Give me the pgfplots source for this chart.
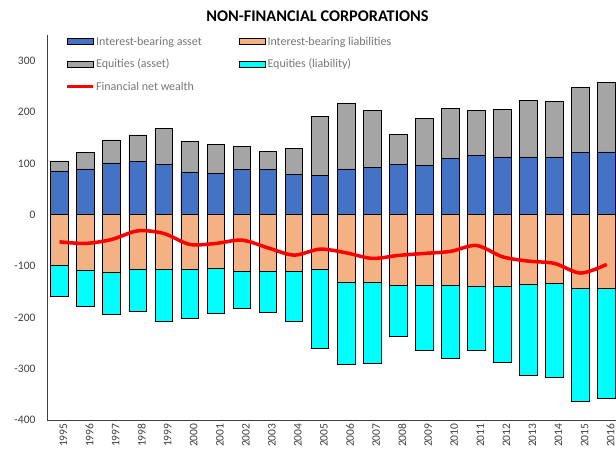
\documentclass[border=0pt]{standalone}
\usepackage{pgfplots}
\pgfplotsset{compat=1.18}
\usepackage{pgfplotstable}
\usepackage{fontspec}
\setmainfont{Carlito}
\definecolor{cblue}{HTML}{4472C4}
\definecolor{corange}{HTML}{F4B183}
\definecolor{cgray}{HTML}{A5A5A5}
\definecolor{ccyan}{HTML}{00FFFF}
\definecolor{cred}{HTML}{FF0000}
\definecolor{legtext}{HTML}{767676}
\definecolor{ticktext}{HTML}{404040}
\definecolor{axcol}{HTML}{404040}

\pgfplotstableread{
idx blue gray orange cyan net
0 85.2 104.7 -98.8 -159.0 -52.9
1 89.0 121.6 -108.0 -179.3 -56.0
2 100.8 145.5 -113.2 -195.0 -48.3
3 103.5 155.3 -106.6 -188.4 -31.5
4 98.2 168.3 -106.0 -207.2 -36.6
5 83.3 143.0 -107.4 -202.0 -58.0
6 80.7 136.6 -105.4 -193.0 -56.0
7 87.9 133.3 -110.0 -183.2 -49.6
8 87.9 123.0 -110.0 -191.0 -64.6
9 78.8 129.4 -110.6 -208.5 -78.8
10 76.5 192.2 -106.0 -260.4 -67.1
11 89.1 216.3 -131.3 -292.2 -74.3
12 91.8 202.7 -131.3 -289.6 -85.2
13 98.2 156.6 -137.8 -236.4 -79.4
14 95.7 187.7 -137.8 -264.3 -75.5
15 109.3 207.8 -137.8 -279.2 -71.6
16 115.2 203.9 -140.4 -264.3 -60.0
17 112.5 205.8 -140.4 -287.0 -82.0
18 112.5 222.2 -136.5 -312.9 -90.5
19 112.5 221.4 -133.9 -317.4 -95.0
20 121.0 248.0 -143.0 -362.8 -113.8
21 122.2 258.4 -144.3 -358.3 -96.9
}\datatable

\begin{document}
\begin{tikzpicture}
\useasboundingbox (0,0) rectangle (616bp,453bp);
\node[font=\bfseries\fontsize{16.3bp}{18bp}\selectfont] at (317.5bp,436.3bp) {NON-FINANCIAL CORPORATIONS};
\begin{axis}[
  at={(47bp,33bp)}, anchor=south west,
  scale only axis, width=569bp, height=385bp,
  xmin=-0.48, xmax=21.36, ymin=-400, ymax=350,
  axis x line*=bottom, axis y line*=left,
  axis line style={draw=axcol, line width=1bp, -},
  xtick={0,...,21},
  xticklabels={1995,1996,1997,1998,1999,2000,2001,2002,2003,2004,2005,2006,2007,2008,2009,2010,2011,2012,2013,2014,2015,2016},
  ytick={-400,-300,-200,-100,0,100,200,300},
  major tick length=0pt,
  tick style={draw=none},
  /pgf/number format/assume math mode=true,
  yticklabel style={font=\fontsize{11.5bp}{13bp}\selectfont, text=ticktext, xshift=-8bp},
  xticklabel style={font=\fontsize{11.5bp}{13bp}\selectfont, text=ticktext, rotate=90, anchor=east, yshift=-4bp},
  legend columns=2,
  legend cell align=left,
  legend style={draw=none, fill=none, at={(axis description cs:0.0316,1)}, anchor=north west,
    font=\fontsize{12bp}{14bp}\selectfont, text=legtext, inner sep=0pt, row sep=9.5bp,
    nodes={inner sep=1.5bp},
    /tikz/every even column/.append style={column sep=36bp}},
]
\addplot[ybar, bar width=17.6bp, bar shift=0pt, fill=cgray, draw=black, line width=0.7bp, forget plot] table[x=idx,y=gray]{\datatable};
\addplot[ybar, bar width=17.6bp, bar shift=0pt, fill=cblue, draw=black, line width=0.7bp, forget plot] table[x=idx,y=blue]{\datatable};
\addplot[ybar, bar width=17.6bp, bar shift=0pt, fill=ccyan, draw=black, line width=0.7bp, forget plot] table[x=idx,y=cyan]{\datatable};
\addplot[ybar, bar width=17.6bp, bar shift=0pt, fill=corange, draw=black, line width=0.7bp, forget plot] table[x=idx,y=orange]{\datatable};
\addplot[cred, line width=3.5bp, smooth, tension=0.5, no markers, forget plot] table[x=idx,y=net]{\datatable};

\addlegendimage{legend image code/.code={\draw[fill=cblue,draw=black,line width=0.7bp] (0bp,-3bp) rectangle (26bp,3bp);}}
\addlegendentry{Interest-bearing asset}
\addlegendimage{legend image code/.code={\draw[fill=corange,draw=black,line width=0.7bp] (0bp,-3bp) rectangle (26bp,3bp);}}
\addlegendentry{Interest-bearing liabilities}
\addlegendimage{legend image code/.code={\draw[fill=cgray,draw=black,line width=0.7bp] (0bp,-3bp) rectangle (26bp,3bp);}}
\addlegendentry{Equities (asset)}
\addlegendimage{legend image code/.code={\draw[fill=ccyan,draw=black,line width=0.7bp] (0bp,-3bp) rectangle (26bp,3bp);}}
\addlegendentry{Equities (liability)}
\addlegendimage{legend image code/.code={\draw[cred,line width=3.5bp] (0bp,0bp) -- (26bp,0bp);}}
\addlegendentry{Financial net wealth}
\end{axis}
\end{tikzpicture}
\end{document}
